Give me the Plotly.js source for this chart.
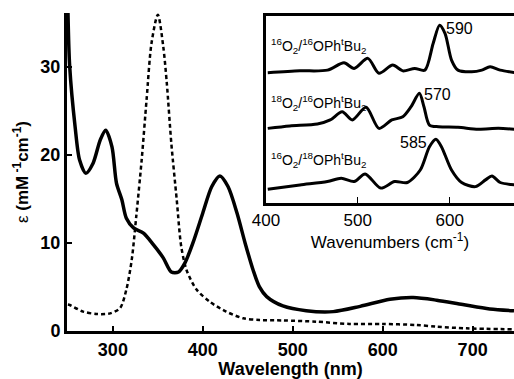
<!DOCTYPE html>
<html>
<head>
<meta charset="utf-8">
<script src="https://cdn.plot.ly/plotly-3.0.1.min.js"></script>
<style>html,body{margin:0;padding:0;background:#fff;}#chart{width:514px;height:379px;}</style>
</head>
<body>
<div id="chart"></div>
<script>
// Main UV-vis spectra: wavelength (nm) vs epsilon (mM^-1 cm^-1)
const solidWavelength = [250,252,258,263,270,278,286,292,299,304,310,315,323,334,345,356,365,373,380,389,400,410,419,428,438,447,456,463,471,489,515,545,575,608,634,660,689,719,746];
const solidEpsilon    = [36.5,30.0,23.2,19.4,17.9,19.05,21.7,22.8,20.9,16.8,14.9,12.8,11.7,11.1,9.8,8.3,6.7,6.7,7.7,10.0,13.4,16.4,17.6,16.4,13.4,10.0,6.9,5.0,3.9,2.84,2.3,2.2,2.8,3.6,3.8,3.5,3.0,2.5,2.3];

const dashWavelength = [250,252,267,282,297,308,315,321,326,332,337.5,343,350,356,360,365,371,376,382,393,408,426,445,463,489,526,563,600,637,660,693,746];
const dashEpsilon    = [3.0,2.95,2.2,1.93,2.0,2.6,4.7,8.1,13.0,19.4,26.3,32.7,35.9,32.3,28.1,21.3,14.9,9.6,6.9,4.7,3.3,2.2,1.44,1.25,1.2,1.06,0.8,0.8,0.68,0.49,0.3,0.19];

// Inset resonance Raman spectra (offset, arbitrary units)
const r1Wavenumber = [402,437,467,485,496,511,523,538,549,562,573,582,589,595,602,609,624,635,644,655,672];
const r1Intensity  = [6.97,7.07,7.11,7.50,7.20,7.74,6.94,7.38,7.07,7.20,7.11,8.54,9.52,9.07,7.65,7.11,7.02,7.11,7.29,7.11,6.97];

const r2Wavenumber = [402,426,456,470,483,494,509,523,537,549,558,567,572,578,588,609,631,653,672];
const r2Intensity  = [3.99,4.12,4.22,4.44,4.88,4.44,5.12,3.99,4.44,4.61,5.15,5.87,5.15,4.17,4.08,4.05,3.94,3.99,3.94];

const r3Wavenumber = [402,437,467,482,496,508,525,540,554,568,578,585,591,602,613,628,639,646,655,672];
const r3Intensity  = [0.73,0.96,1.14,1.32,1.14,1.55,0.79,1.14,1.09,1.76,3.01,3.41,3.01,1.76,1.09,0.87,1.23,1.44,1.09,0.96];

const insetLabels = [
  "<sup>16</sup>O<sub>2</sub>/<sup>16</sup>OPh<sup>t</sup>Bu<sub>2</sub>",
  "<sup>18</sup>O<sub>2</sub>/<sup>16</sup>OPh<sup>t</sup>Bu<sub>2</sub>",
  "<sup>16</sup>O<sub>2</sub>/<sup>18</sup>OPh<sup>t</sup>Bu<sub>2</sub>"
];
const peakLabels = ["590", "570", "585"];

const FONT = "Arial, 'Liberation Sans', sans-serif";

const traces = [
  {x: solidWavelength, y: solidEpsilon, type: 'scatter', mode: 'lines',
   line: {color: '#000', width: 3.5, shape: 'spline', smoothing: 0.8}, xaxis: 'x', yaxis: 'y'},
  {x: dashWavelength, y: dashEpsilon, type: 'scatter', mode: 'lines',
   line: {color: '#000', width: 2.5, dash: '4px,3px', shape: 'spline', smoothing: 0.8}, xaxis: 'x', yaxis: 'y'},
  {x: r1Wavenumber, y: r1Intensity, type: 'scatter', mode: 'lines',
   line: {color: '#000', width: 3, shape: 'spline', smoothing: 0.8}, xaxis: 'x2', yaxis: 'y2'},
  {x: r2Wavenumber, y: r2Intensity, type: 'scatter', mode: 'lines',
   line: {color: '#000', width: 3, shape: 'spline', smoothing: 0.8}, xaxis: 'x2', yaxis: 'y2'},
  {x: r3Wavenumber, y: r3Intensity, type: 'scatter', mode: 'lines',
   line: {color: '#000', width: 3, shape: 'spline', smoothing: 0.8}, xaxis: 'x2', yaxis: 'y2'}
];

const layout = {
  width: 514, height: 379,
  margin: {l: 67, r: 0, t: 13, b: 48},
  paper_bgcolor: '#fff', plot_bgcolor: 'rgba(0,0,0,0)',
  showlegend: false,
  font: {family: FONT, color: '#000'},
  xaxis: {
    domain: [0, 1], anchor: 'y', range: [249, 746],
    tickvals: [300, 400, 500, 600, 700], ticks: 'inside', ticklen: 5, tickwidth: 2, tickcolor: '#000',
    showline: true, linewidth: 3, linecolor: '#000', mirror: false, showgrid: false, zeroline: false,
    tickfont: {family: FONT, size: 18, weight: 'bold'},
    title: {text: 'Wavelength (nm)', font: {family: FONT, size: 18, weight: 'bold'}, standoff: 5}
  },
  yaxis: {
    domain: [0, 1], anchor: 'x', range: [0, 36.1],
    tickvals: [0, 10, 20, 30], ticks: 'inside', ticklen: 5, tickwidth: 2, tickcolor: '#000',
    showline: true, linewidth: 3, linecolor: '#000', mirror: false, showgrid: false, zeroline: false,
    tickfont: {family: FONT, size: 18, weight: 'bold'},
    title: {text: 'ε <b>(mM<sup> -1</sup>cm<sup>-1</sup>)</b>', font: {family: FONT, size: 17}, standoff: 8}
  },
  xaxis2: {
    domain: [0.445, 1], anchor: 'y2', range: [400, 670],
    tickvals: [400, 500, 600], ticks: 'inside', ticklen: 6, tickwidth: 1, tickcolor: '#000',
    showline: true, linewidth: 3, linecolor: '#000', mirror: true, showgrid: false, zeroline: false,
    tickfont: {family: FONT, size: 17},
    title: {text: 'Wavenumbers (cm<sup>-1</sup>)', font: {family: FONT, size: 17}, standoff: 2}
  },
  yaxis2: {
    domain: [0.403, 0.99], anchor: 'x2', range: [0, 10],
    showticklabels: false, ticks: '',
    showline: true, linewidth: 3, linecolor: '#000', mirror: true, showgrid: false, zeroline: false
  },
  shapes: [
    {type: 'rect', xref: 'x2 domain', yref: 'y2 domain', x0: 0, x1: 1, y0: 0, y1: 1,
     fillcolor: '#fff', line: {width: 0}, layer: 'below'}
  ],
  annotations: [
    {xref: 'x2', yref: 'y2', x: 403, y: 8.4, text: insetLabels[0], showarrow: false, xanchor: 'left', yanchor: 'middle', font: {family: FONT, size: 14}},
    {xref: 'x2', yref: 'y2', x: 403, y: 5.35, text: insetLabels[1], showarrow: false, xanchor: 'left', yanchor: 'middle', font: {family: FONT, size: 14}},
    {xref: 'x2', yref: 'y2', x: 403, y: 2.3, text: insetLabels[2], showarrow: false, xanchor: 'left', yanchor: 'middle', font: {family: FONT, size: 14}},
    {xref: 'x2', yref: 'y2', x: 594, y: 9.35, text: peakLabels[0], showarrow: false, xanchor: 'left', yanchor: 'middle', font: {family: FONT, size: 16}},
    {xref: 'x2', yref: 'y2', x: 570, y: 5.8, text: peakLabels[1], showarrow: false, xanchor: 'left', yanchor: 'middle', font: {family: FONT, size: 16}},
    {xref: 'x2', yref: 'y2', x: 578, y: 3.25, text: peakLabels[2], showarrow: false, xanchor: 'right', yanchor: 'middle', font: {family: FONT, size: 16}}
  ]
};

Plotly.newPlot('chart', traces, layout, {displayModeBar: false, staticPlot: true});
</script>
</body>
</html>
